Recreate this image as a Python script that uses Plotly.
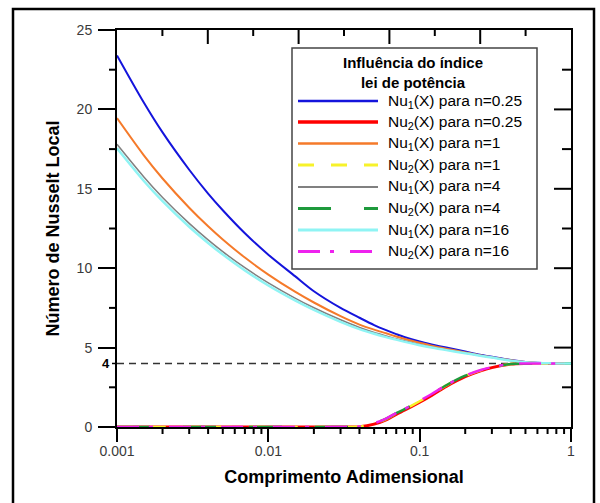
import math
import plotly.graph_objects as go

# ---------------- data ----------------
x_vals = [0.001, 0.0015, 0.002, 0.003, 0.004, 0.005, 0.007, 0.01, 0.015, 0.02,
          0.03, 0.04, 0.05, 0.06, 0.07, 0.08, 0.1, 0.12, 0.15, 0.2, 0.25, 0.3,
          0.4, 0.5, 0.6, 0.7, 0.8, 1.0]

nu1_n025 = [23.4, 20.45, 18.55, 16.2, 14.7, 13.65, 12.2, 10.85, 9.5, 8.55,
            7.5, 6.88, 6.42, 6.1, 5.85, 5.65, 5.38, 5.2, 5.0, 4.75, 4.55, 4.42,
            4.22, 4.1, 4.04, 4.01, 4.0, 4.0]
nu1_n1 = [19.45, 17.12, 15.65, 13.81, 12.64, 11.81, 10.67, 9.6, 8.52, 7.84,
          6.98, 6.45, 6.13, 5.9, 5.7, 5.54, 5.3, 5.12, 4.93, 4.7, 4.52, 4.4,
          4.2, 4.09, 4.03, 4.01, 4.0, 4.0]
nu1_n4 = [17.8, 15.76, 14.45, 12.82, 11.78, 11.04, 10.03, 9.08, 8.12, 7.51,
          6.75, 6.27, 5.96, 5.74, 5.56, 5.42, 5.19, 5.03, 4.86, 4.66, 4.5, 4.38,
          4.19, 4.08, 4.03, 4.01, 4.0, 4.0]
nu1_n16 = [17.55, 15.51, 14.22, 12.61, 11.59, 10.86, 9.86, 8.91, 7.97, 7.37,
           6.62, 6.16, 5.87, 5.66, 5.5, 5.36, 5.15, 5.0, 4.84, 4.65, 4.49, 4.37,
           4.18, 4.08, 4.03, 4.01, 4.0, 4.0]

nu2_n025 = [0, 0, 0, 0, 0, 0, 0, 0, 0, 0,
            0, 0.02, 0.18, 0.45, 0.8, 1.07, 1.56, 1.99, 2.56, 3.17, 3.52, 3.74,
            3.96, 4.0, 4.0, 4.0, 4.0, 4.0]
nu2_n1 = [0, 0, 0, 0, 0, 0, 0, 0, 0, 0,
          0, 0.03, 0.22, 0.5, 0.85, 1.12, 1.62, 2.05, 2.62, 3.22, 3.55, 3.76,
          3.97, 4.0, 4.0, 4.0, 4.0, 4.0]
nu2_n4 = [0, 0, 0, 0, 0, 0, 0, 0, 0, 0,
          0, 0.03, 0.23, 0.52, 0.87, 1.14, 1.64, 2.07, 2.63, 3.23, 3.56, 3.77,
          3.97, 4.0, 4.0, 4.0, 4.0, 4.0]
nu2_n16 = [0, 0, 0, 0, 0, 0, 0, 0, 0, 0,
           0, 0.03, 0.24, 0.53, 0.88, 1.15, 1.65, 2.08, 2.64, 3.24, 3.57, 3.77,
           3.97, 4.0, 4.0, 4.0, 4.0, 4.0]

series_names = [
    "Nu<sub>1</sub>(X) para n=0.25", "Nu<sub>2</sub>(X) para n=0.25",
    "Nu<sub>1</sub>(X) para n=1", "Nu<sub>2</sub>(X) para n=1",
    "Nu<sub>1</sub>(X) para n=4", "Nu<sub>2</sub>(X) para n=4",
    "Nu<sub>1</sub>(X) para n=16", "Nu<sub>2</sub>(X) para n=16",
]
series_values = [nu1_n025, nu2_n025, nu1_n1, nu2_n1, nu1_n4, nu2_n4, nu1_n16, nu2_n16]

x_range = [0.001, 1]
y_range = [0, 25]
x_tick_vals = [0.001, 0.01, 0.1, 1]
x_tick_text = ["0.001", "0.01", "0.1", "1"]
x_minor_vals = [m * d for d in (0.001, 0.01, 0.1) for m in range(2, 10)]
y_major_vals = [0, 5, 10, 15, 20, 25]
y_minor_vals = [2.5, 7.5, 12.5, 17.5, 22.5]
top_divisions = 10  # the top frame edge carries 10 even divisions

legend_title = "<b>Influência do índice<br>lei de potência</b>"
x_title = "<b>Comprimento Adimensional</b>"
y_title = "<b>Número de Nusselt Local</b>"

# ---------------- styles ----------------
styles = [
    dict(color="#1414dc", width=2, dash="solid"),
    dict(color="#ff0000", width=3, dash="solid"),
    dict(color="#f57a2a", width=2, dash="solid"),
    dict(color="#f7f22a", width=2.5, dash="16px,17px"),
    dict(color="#808080", width=1.5, dash="solid"),
    dict(color="#1e9a3c", width=2.5, dash="33px,33px"),
    dict(color="#8ff4f4", width=2.5, dash="solid"),
    dict(color="#ee22ee", width=2.5, dash="22px,10px,4px,16px"),
]

FONT = "Liberation Sans, Arial, sans-serif"
W, H = 600, 503
L, R, T, B = 117, 29, 30, 76
PW, PH = W - L - R, H - T - B


def px(X):
    return (X - L) / PW


def py(Y):
    return (H - B - Y) / PH


def xfrac(v):
    lo, hi = math.log10(x_range[0]), math.log10(x_range[1])
    return (math.log10(v) - lo) / (hi - lo)


def yfrac(v):
    return (v - y_range[0]) / (y_range[1] - y_range[0])


fig = go.Figure()
for name, vals, st in zip(series_names, series_values, styles):
    fig.add_trace(go.Scatter(
        x=x_vals, y=vals, mode="lines", name=name, showlegend=False,
        line=dict(color=st["color"], width=st["width"], dash=st["dash"], shape="spline", smoothing=0.8),
        hoverinfo="skip",
    ))

tick_font = dict(family=FONT, size=14, color="#3a3a3a")
base = dict(showgrid=False, zeroline=False, tickcolor="black", tickwidth=2,
            showline=True, linecolor="black", linewidth=2, mirror=True)

fig.update_layout(
    width=W, height=H,
    margin=dict(l=L, r=R, t=T, b=B, pad=0),
    paper_bgcolor="white", plot_bgcolor="white",
    font=dict(family=FONT, color="black"),
    xaxis=dict(
        type="log", range=[math.log10(x_range[0]), math.log10(x_range[1])],
        tickmode="array", tickvals=x_tick_vals, ticktext=x_tick_text,
        ticks="outside", ticklen=13, tickfont=tick_font, ticklabelstandoff=-3,
        title=dict(text=x_title, font=dict(family=FONT, size=18, color="black"), standoff=13),
        **base,
    ),
    yaxis=dict(
        range=y_range, tickmode="array", tickvals=y_major_vals, ticks="outside", ticklen=17,
        tickfont=tick_font, ticklabelstandoff=3,
        title=dict(text=y_title, font=dict(family=FONT, size=18, color="black"), standoff=12),
        **base,
    ),
)

shapes = []
annotations = []


def tick(x0, x1, y0, y1):
    return dict(type="line", xref="paper", yref="paper", x0=x0, x1=x1, y0=y0, y1=y1,
                layer="above", line=dict(color="black", width=2))


# minor ticks of the bottom (log) axis, outside
for v in x_minor_vals:
    shapes.append(tick(xfrac(v), xfrac(v), 0, -7 / PH))
# top frame ticks, inside (long at even divisions)
for k in range(1, top_divisions):
    ln = 14 if k % 2 == 0 else 6
    shapes.append(tick(k / top_divisions, k / top_divisions, 1, 1 - ln / PH))
# left minor ticks, outside
for v in y_minor_vals:
    shapes.append(tick(0, -8 / PW, yfrac(v), yfrac(v)))
# right frame ticks, inside
for v in y_major_vals[1:-1]:
    shapes.append(tick(1, 1 - 17 / PW, yfrac(v), yfrac(v)))
for v in y_minor_vals:
    shapes.append(tick(1, 1 - 9 / PW, yfrac(v), yfrac(v)))

# asymptote Nu = 4
shapes.append(dict(type="line", xref="paper", yref="y", x0=0, x1=1, y0=4, y1=4,
                   line=dict(color="#333333", width=1.5, dash="7px,5px"), layer="below"))
shapes.append(dict(type="line", xref="paper", yref="y", x0=px(112), x1=0, y0=4, y1=4,
                   line=dict(color="black", width=1.5)))
annotations.append(dict(text="<b>4</b>", xref="paper", yref="y", x=px(112), y=4,
                        xanchor="right", yanchor="middle", showarrow=False,
                        font=dict(family=FONT, size=13, color="black")))

# outer frame
shapes.append(dict(type="rect", xref="paper", yref="paper", x0=px(13), x1=px(594),
                   y0=py(515), y1=py(9), line=dict(color="black", width=2.5)))

# legend box
shapes.append(dict(type="rect", xref="paper", yref="paper", x0=px(292), x1=px(537),
                   y0=py(269), y1=py(48), line=dict(color="#444444", width=1.5),
                   fillcolor="white", layer="above"))
annotations.append(dict(text=legend_title, xref="paper", yref="paper", x=px(413), y=py(72.5),
                        xanchor="center", yanchor="middle", showarrow=False, align="center",
                        font=dict(family=FONT, size=15, color="black")))
entry_y = [101, 122, 143.5, 165, 187, 208.5, 230, 251.5]
for name, st, ey in zip(series_names, styles, entry_y):
    shapes.append(dict(type="line", xref="paper", yref="paper", x0=px(298), x1=px(378),
                       y0=py(ey), y1=py(ey), layer="above",
                       line=dict(color=st["color"], width=st["width"] + 0.5, dash=st["dash"])))
    annotations.append(dict(text=name, xref="paper", yref="paper", x=px(386), y=py(ey),
                            xanchor="left", yanchor="middle", showarrow=False,
                            font=dict(family=FONT, size=15.5, color="black")))

fig.update_layout(shapes=shapes, annotations=annotations)

fig.write_html("out.html")
